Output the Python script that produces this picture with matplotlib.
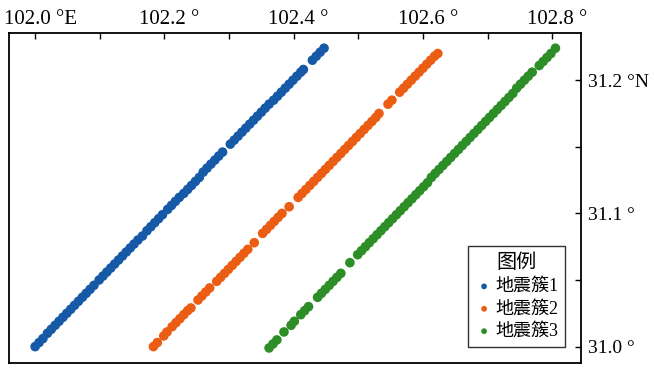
import matplotlib.pyplot as plt
from matplotlib.ticker import MultipleLocator, FixedLocator
from matplotlib.transforms import ScaledTranslation

# 地震簇1
lon1 = [102.000, 102.006, 102.012, 102.019, 102.025, 102.031, 102.037, 102.043, 102.049, 102.055,
        102.061, 102.067, 102.073, 102.079, 102.085, 102.091, 102.099, 102.105, 102.111, 102.117,
        102.123, 102.129, 102.135, 102.141, 102.147, 102.153, 102.159, 102.166, 102.173, 102.179,
        102.185, 102.191, 102.197, 102.205, 102.211, 102.217, 102.223, 102.230, 102.236, 102.242,
        102.248, 102.254, 102.260, 102.266, 102.272, 102.278, 102.284, 102.290, 102.302, 102.308,
        102.314, 102.320, 102.326, 102.332, 102.338, 102.344, 102.350, 102.356, 102.362, 102.369,
        102.375, 102.381, 102.387, 102.393, 102.399, 102.405, 102.411, 102.415, 102.429, 102.435,
        102.441, 102.447]
lat1 = [31.000, 31.003, 31.006, 31.010, 31.013, 31.016, 31.019, 31.022, 31.025, 31.028,
        31.031, 31.034, 31.037, 31.040, 31.043, 31.046, 31.050, 31.053, 31.056, 31.059,
        31.062, 31.065, 31.068, 31.071, 31.074, 31.077, 31.080, 31.083, 31.087, 31.090,
        31.093, 31.096, 31.099, 31.103, 31.106, 31.109, 31.112, 31.115, 31.118, 31.121,
        31.124, 31.127, 31.131, 31.134, 31.137, 31.140, 31.143, 31.146, 31.152, 31.155,
        31.158, 31.161, 31.164, 31.167, 31.170, 31.173, 31.176, 31.179, 31.182, 31.185,
        31.188, 31.191, 31.194, 31.197, 31.200, 31.203, 31.206, 31.208, 31.215, 31.218,
        31.221, 31.224]

# 地震簇2
lon2 = [102.183, 102.189, 102.199, 102.204, 102.212, 102.218, 102.224, 102.230, 102.236, 102.241,
        102.252, 102.258, 102.264, 102.270, 102.281, 102.287, 102.293, 102.299, 102.305, 102.311,
        102.317, 102.323, 102.329, 102.339, 102.352, 102.358, 102.364, 102.370, 102.376, 102.382,
        102.393, 102.407, 102.413, 102.419, 102.425, 102.431, 102.437, 102.443, 102.449, 102.455,
        102.461, 102.467, 102.473, 102.479, 102.485, 102.491, 102.497, 102.503, 102.509, 102.515,
        102.521, 102.527, 102.532, 102.546, 102.552, 102.564, 102.570, 102.576, 102.582, 102.588,
        102.594, 102.600, 102.606, 102.612, 102.618, 102.623]
lat2 = [31.000, 31.003, 31.008, 31.011, 31.015, 31.018, 31.021, 31.024, 31.027, 31.029,
        31.035, 31.038, 31.041, 31.044, 31.049, 31.052, 31.055, 31.058, 31.061, 31.064,
        31.067, 31.070, 31.073, 31.078, 31.085, 31.088, 31.091, 31.094, 31.097, 31.100,
        31.105, 31.112, 31.115, 31.118, 31.121, 31.124, 31.127, 31.130, 31.133, 31.136,
        31.139, 31.142, 31.145, 31.148, 31.151, 31.154, 31.157, 31.160, 31.163, 31.166,
        31.169, 31.172, 31.175, 31.182, 31.185, 31.191, 31.194, 31.197, 31.200, 31.203,
        31.206, 31.209, 31.212, 31.215, 31.218, 31.220]

# 地震簇3
lon3 = [102.362, 102.368, 102.374, 102.385, 102.396, 102.401, 102.411, 102.417, 102.423, 102.437,
        102.443, 102.449, 102.455, 102.461, 102.467, 102.473, 102.487, 102.499, 102.505, 102.511,
        102.517, 102.523, 102.529, 102.535, 102.541, 102.547, 102.553, 102.559, 102.565, 102.571,
        102.577, 102.583, 102.589, 102.595, 102.601, 102.607, 102.613, 102.619, 102.625, 102.631,
        102.637, 102.643, 102.649, 102.655, 102.661, 102.667, 102.673, 102.679, 102.685, 102.691,
        102.697, 102.703, 102.709, 102.715, 102.721, 102.727, 102.733, 102.739, 102.745, 102.751,
        102.757, 102.763, 102.769, 102.780, 102.786, 102.792, 102.798, 102.805]
lat3 = [30.999, 31.002, 31.005, 31.011, 31.016, 31.019, 31.024, 31.027, 31.030, 31.037,
        31.040, 31.043, 31.046, 31.049, 31.052, 31.055, 31.063, 31.069, 31.072, 31.075,
        31.078, 31.081, 31.084, 31.087, 31.090, 31.093, 31.096, 31.099, 31.102, 31.105,
        31.108, 31.111, 31.114, 31.117, 31.120, 31.123, 31.127, 31.130, 31.133, 31.136,
        31.139, 31.142, 31.145, 31.148, 31.151, 31.154, 31.157, 31.160, 31.163, 31.166,
        31.169, 31.172, 31.175, 31.178, 31.181, 31.184, 31.187, 31.190, 31.194, 31.197,
        31.200, 31.203, 31.206, 31.211, 31.214, 31.217, 31.220, 31.224]

labels = ['地震簇1', '地震簇2', '地震簇3']
colors = ['#165aa7', '#ec5d14', '#2d8e27']

x_ticks = [102.0, 102.2, 102.4, 102.6, 102.8]
x_ticklabels = ['102.0 °E', '102.2 °', '102.4 °', '102.6 °', '102.8 °']
y_ticks = [31.0, 31.1, 31.2]
y_ticklabels = ['31.0 °', '31.1 °', '31.2 °N']

plt.rcParams['font.family'] = ['Liberation Serif', 'Noto Sans CJK SC']

fig = plt.figure(figsize=(6.54, 3.69), dpi=100)
ax = fig.add_axes([0.0142, 0.0163, 0.8746, 0.8935])

for lo, la, lab, c in zip([lon1, lon2, lon3], [lat1, lat2, lat3], labels, colors):
    ax.scatter(lo, la, s=48, color=c, edgecolors='none', label=lab)

ax.set_xlim(101.960, 102.845)
ax.set_ylim(30.9877, 31.2352)

ax.xaxis.tick_top()
ax.yaxis.tick_right()
ax.xaxis.set_major_locator(FixedLocator(x_ticks))
ax.xaxis.set_minor_locator(MultipleLocator(0.1))
ax.yaxis.set_major_locator(FixedLocator(y_ticks))
ax.yaxis.set_minor_locator(MultipleLocator(0.05))
ax.set_xticklabels(x_ticklabels)
ax.set_yticklabels(y_ticklabels)
ax.tick_params(which='both', direction='in', length=4, width=1,
               top=True, right=True, bottom=False, left=False)
ax.tick_params(axis='x', pad=3, labelsize=15)
ax.tick_params(axis='y', pad=5, labelsize=14)
for sp in ax.spines.values():
    sp.set_linewidth(1.3)

# labels sit a little right of their ticks
shift = ScaledTranslation(5 / 100, 0, fig.dpi_scale_trans)
for t in ax.get_xticklabels():
    t.set_transform(t.get_transform() + shift)

leg = ax.legend(title='图例', loc='lower right', bbox_to_anchor=(0.972, 0.048),
                borderaxespad=0, fontsize=13, title_fontsize=14.5, markerscale=0.6,
                handletextpad=0.1, handlelength=1.0, borderpad=0.4,
                labelspacing=0.3, fancybox=False, edgecolor='#333333', framealpha=1)
leg.get_frame().set_linewidth(1.0)

fig.savefig('out.png', dpi=100)
